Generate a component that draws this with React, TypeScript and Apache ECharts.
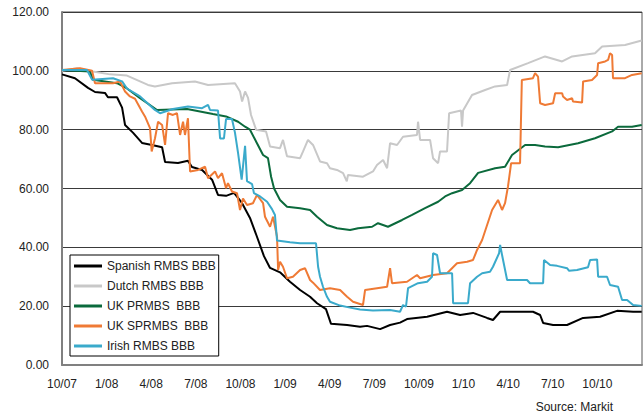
import React, { useEffect, useRef } from "react";
import * as echarts from "echarts";

// x = months since 1 Oct 2007, y = price
const seriesNames = ["Spanish RMBS BBB", "Dutch RMBS BBB", "UK PRMBS  BBB", "UK SPRMBS  BBB", "Irish RMBS BBB"];
const seriesColors = ["#000000", "#c8c8c8", "#0b6a3c", "#ef7a35", "#3aaacb"];

const spanish: [number, number][] = [
  [0, 98.8], [0.87, 97.5], [1.75, 94.2], [2.22, 92.8], [2.89, 92.5], [3.09, 91], [3.7, 91], [4.04, 87.5],
  [4.24, 81.6], [4.77, 79], [5.38, 75.5], [6.05, 74.8], [6.73, 74], [6.93, 69], [7.8, 68.7], [8.47, 69.4],
  [8.74, 67.3], [9.42, 66.3], [10.09, 63], [10.49, 57.8], [11.03, 57.5], [11.57, 58.5], [12.11, 55],
  [12.64, 50], [13.11, 43.6], [13.58, 37], [13.99, 33], [14.66, 31.5], [15.33, 28.3], [16.01, 25.5],
  [16.68, 23.2], [17.15, 21], [17.75, 19], [18.09, 14], [19.17, 13.6], [20.04, 13], [20.51, 13.3],
  [21.39, 12.2], [22.06, 13.6], [22.73, 14.4], [23.2, 15.6], [24.55, 16.4], [25.89, 18.1], [26.77, 17],
  [27.64, 17.7], [28.58, 16], [28.98, 15.3], [29.46, 18.1], [31.67, 18.1], [32.15, 17], [32.35, 14.3],
  [33.02, 13.6], [33.96, 13.6], [35.04, 16], [36.18, 16.4], [37.32, 18.4], [38.4, 18.1], [38.98, 18.1],
];

const dutch: [number, number][] = [
  [0, 100], [1.01, 100.9], [2.08, 99.8], [3.23, 98.8], [4.37, 98.4], [5.78, 95.2], [6.25, 94.7], [7.4, 95.8],
  [8.94, 96.4], [9.82, 95.2], [11.63, 95.8], [11.97, 93], [12.11, 89.6], [12.31, 93], [12.51, 90.8],
  [12.71, 85], [13.05, 80], [13.72, 79.4], [13.99, 74.3], [14.66, 73.7], [14.86, 76.5], [15.13, 71],
  [16.01, 70.3], [16.21, 72.6], [16.54, 76.5], [16.88, 74.8], [17.35, 69.2], [17.82, 68.6], [18.02, 66.9],
  [18.49, 66.3], [18.9, 65.2], [19.15, 62.4], [19.23, 64.6], [20.24, 64], [20.91, 65.8], [21.18, 68],
  [21.59, 69.7], [21.86, 66.9], [22.06, 75.4], [22.53, 74.8], [22.93, 77.6], [23.87, 78.2], [23.94, 82.7],
  [24.08, 76.5], [24.75, 76.5], [24.95, 70.3], [25.29, 68.6], [25.42, 72.6], [25.89, 72.6], [26.03, 85.6],
  [26.83, 86.5], [26.9, 81], [26.97, 86.5], [27.57, 91.8], [28.45, 93.5], [29.12, 94.7], [29.93, 95.2],
  [30.13, 100.3], [31.34, 102.6], [32.48, 104.9], [33.63, 103.2], [34.3, 104.9], [35.84, 106],
  [36.32, 108.3], [37.86, 108.8], [38.98, 110.3],
];

const ukPrime: [number, number][] = [
  [0, 100.3], [1.88, 99.8], [2.08, 97], [3.7, 95.8], [4.37, 94], [5.25, 90.7], [6.39, 86.7], [8.41, 87],
  [10.15, 85.3], [11.03, 84.5], [11.84, 82.7], [12.31, 81], [12.64, 80], [13.11, 75.4], [13.52, 71.4],
  [13.85, 70.3], [14.06, 64], [14.26, 60], [14.66, 56.1], [15.13, 53.8], [16.01, 53.3], [16.68, 52.7],
  [17.15, 50.4], [17.82, 47.6], [18.49, 46.5], [19.37, 45.9], [19.91, 46.5], [20.85, 47], [21.25, 48.2],
  [21.92, 47], [22.87, 49.3], [23.54, 51], [24.41, 53.3], [25.29, 55.5], [25.76, 57.3], [26.23, 58.4],
  [26.9, 59.5], [27.44, 61.8], [27.98, 65.3], [29.12, 66.9], [29.79, 67.4], [30.26, 71.4], [31.14, 74.8],
  [31.81, 74.8], [32.48, 74.3], [33.36, 74], [34.7, 75.4], [35.84, 77.1], [36.99, 79.4], [37.39, 81],
  [38.33, 81], [38.98, 81.6],
];

const ukNonConf: [number, number][] = [
  [0, 100.3], [1.21, 100.9], [2.02, 100], [2.22, 95.8], [3.43, 95.8], [3.9, 96.4], [4.24, 93], [4.57, 91.3],
  [4.91, 90.5], [5.38, 86.2], [5.58, 84.5], [5.92, 80.5], [6.03, 72.6], [6.25, 77], [6.46, 82.7],
  [6.73, 81.6], [6.93, 74.8], [7.13, 85.6], [7.46, 85], [7.73, 85.6], [7.94, 78.2], [8.14, 82.7],
  [8.27, 78.2], [8.47, 83.9], [8.61, 65.8], [9.15, 66.3], [9.62, 67.4], [9.82, 63.5], [10.29, 65.8],
  [10.49, 63.5], [10.76, 65.2], [11.03, 60.1], [11.16, 61.8], [11.43, 59], [11.77, 58.4], [11.97, 52.7],
  [12.17, 56.6], [12.44, 54.4], [12.84, 55], [13.11, 57.8], [13.52, 55], [13.65, 50.4], [13.99, 47],
  [14.19, 50.4], [14.46, 43.6], [14.53, 32.3], [14.66, 35.1], [14.86, 33.4], [15.13, 29.5], [15.53, 30],
  [16.01, 32.3], [16.34, 32.9], [16.68, 28.9], [16.88, 28], [17.35, 25.5], [18.02, 26.1], [18.7, 25.5],
  [19.17, 23.2], [19.57, 21.5], [20.24, 20.4], [20.38, 25.5], [21.18, 26.1], [21.86, 26.6], [22.06, 32.9],
  [22.19, 27.8], [23.2, 28.3], [23.87, 30.6], [24.08, 29.5], [24.95, 30.6], [25.89, 31.2], [26.56, 34.6],
  [27.24, 35.1], [27.64, 35.7], [27.91, 39.1], [28.25, 42.5], [28.92, 52.7], [29.32, 56.1], [29.59, 52.7],
  [29.79, 55], [29.99, 60.7], [30.2, 68.6], [30.8, 68.6], [30.92, 96.9], [31.67, 97.5], [31.81, 99.2],
  [32.01, 98], [32.15, 89], [32.48, 88.4], [33.02, 89], [33.16, 92.4], [33.63, 92.4], [33.69, 91.3],
  [33.96, 90.1], [34.3, 90.7], [34.36, 89.6], [34.97, 89.2], [35.04, 96.4], [35.64, 96.9], [35.98, 98.6],
  [36.05, 102.6], [36.52, 103.2], [36.72, 103.7], [36.85, 106], [36.99, 105.4], [37.05, 97.5],
  [37.86, 97.5], [38.33, 98.6], [38.98, 99.2],
];

const irish: [number, number][] = [
  [0, 100.3], [1.68, 100.3], [2.02, 97], [3.43, 97.5], [4.04, 96.4], [4.37, 94], [5.25, 91.3], [6.25, 86.7],
  [6.59, 85.6], [7.46, 87], [8.47, 87.9], [9.42, 87.3], [9.82, 88.4], [9.95, 86.7], [10.49, 86.5],
  [10.63, 77], [10.89, 77], [11.03, 83.6], [11.43, 83.6], [11.63, 79], [11.84, 72], [12.08, 63],
  [12.31, 74.5], [12.44, 62.5], [12.78, 61.5], [12.91, 58.4], [13.32, 57.3], [13.79, 55.5], [14.12, 53],
  [14.32, 51], [14.46, 42.3], [15.33, 41.7], [16.01, 41.4], [17.08, 41.4], [17.22, 33.4], [17.35, 30],
  [17.55, 26.6], [17.82, 23.2], [18.02, 21.5], [18.7, 20.2], [19.37, 19.5], [20.04, 18.9], [20.91, 18.5],
  [22.06, 18.7], [22.73, 18.1], [22.93, 20.4], [23.13, 19.8], [23.27, 26.1], [23.94, 27.8], [24.55, 28.3],
  [24.88, 30], [24.95, 38], [25.22, 37.4], [25.42, 31.2], [26.23, 31.2], [26.3, 21], [27.3, 21],
  [27.44, 27.8], [27.91, 30], [28.25, 31.2], [28.78, 31.7], [28.98, 33.4], [29.39, 38], [29.46, 40.8],
  [29.59, 37.4], [29.93, 28.9], [31.27, 28.9], [31.47, 27.8], [32.35, 27.8], [32.41, 35.7], [32.82, 34],
  [33.29, 33.7], [33.96, 32.9], [34.1, 32], [34.63, 32.3], [35.37, 33.2], [35.51, 35.7], [35.98, 35.9],
  [36.05, 30], [36.65, 30], [36.85, 27.2], [37.39, 26.6], [37.66, 22.1], [38.0, 22.1], [38.4, 20.4],
  [38.98, 20.1],
];

const allSeries = [spanish, dutch, ukPrime, ukNonConf, irish];

const yMin = 0;
const yMax = 120;
const yStep = 20;
const xMax = 39;
const xStep = 3;
const sourceText = "Source: Markit";

function monthLabel(v: number): string {
  const idx = 9 + Math.round(v); // Jan 2007 = 0
  const m = (idx % 12) + 1;
  const y = 7 + Math.floor(idx / 12);
  return `${m}/${y < 10 ? "0" + y : y}`;
}

export default function App() {
  const ref = useRef<HTMLDivElement>(null);
  useEffect(() => {
    if (!ref.current) return;
    const chart = echarts.init(ref.current, undefined, { renderer: "svg" });
    const font = "'Liberation Sans', Arial, sans-serif";
    chart.setOption({
      animation: false,
      backgroundColor: "#ffffff",
      textStyle: { fontFamily: font },
      grid: {
        left: 62,
        right: 2,
        top: 12,
        bottom: 54,
        show: true,
        borderColor: "#555",
        borderWidth: 1,
        backgroundColor: "transparent",
      },
      xAxis: {
        type: "value",
        min: 0,
        max: xMax,
        interval: xStep,
        axisLine: { show: true, onZero: false, lineStyle: { color: "#808080", width: 2 } },
        axisTick: { show: false },
        splitLine: { show: false },
        axisLabel: {
          showMaxLabel: false,
          margin: 13,
          fontSize: 12,
          color: "#222",
          fontFamily: font,
          formatter: (v: number) => monthLabel(v),
        },
      },
      yAxis: {
        type: "value",
        min: yMin,
        max: yMax,
        interval: yStep,
        axisLine: { show: true, lineStyle: { color: "#808080", width: 2 } },
        axisTick: { show: false },
        splitLine: { show: true, lineStyle: { color: "#3a3a3a", width: 1 } },
        axisLabel: {
          margin: 13,
          fontSize: 12,
          color: "#222",
          fontFamily: font,
          formatter: (v: number) => v.toFixed(2),
        },
      },
      legend: {
        orient: "vertical",
        left: 70,
        top: 255,
        icon: "rect",
        itemWidth: 28,
        itemHeight: 3,
        itemGap: 6,
        padding: [4, 3, 3, 4],
        borderColor: "#000",
        borderWidth: 1,
        backgroundColor: "#fff",
        textStyle: { fontSize: 12, color: "#222", lineHeight: 14, fontFamily: font },
        data: seriesNames,
      },
      graphic: [
        {
          type: "text",
          right: 31,
          top: 401,
          style: { text: sourceText, fontSize: 12, fill: "#222", fontFamily: font },
        },
      ],
      series: allSeries.map((d, i) => ({
        name: seriesNames[i],
        type: "line",
        data: d,
        showSymbol: false,
        symbol: "none",
        lineStyle: { color: seriesColors[i], width: 2 },
        itemStyle: { color: seriesColors[i] },
        emphasis: { disabled: true },
      })),
    });
    return () => chart.dispose();
  }, []);
  return <div ref={ref} style={{ width: 644, height: 419, position: "absolute", left: 0, top: 0 }} />;
}
